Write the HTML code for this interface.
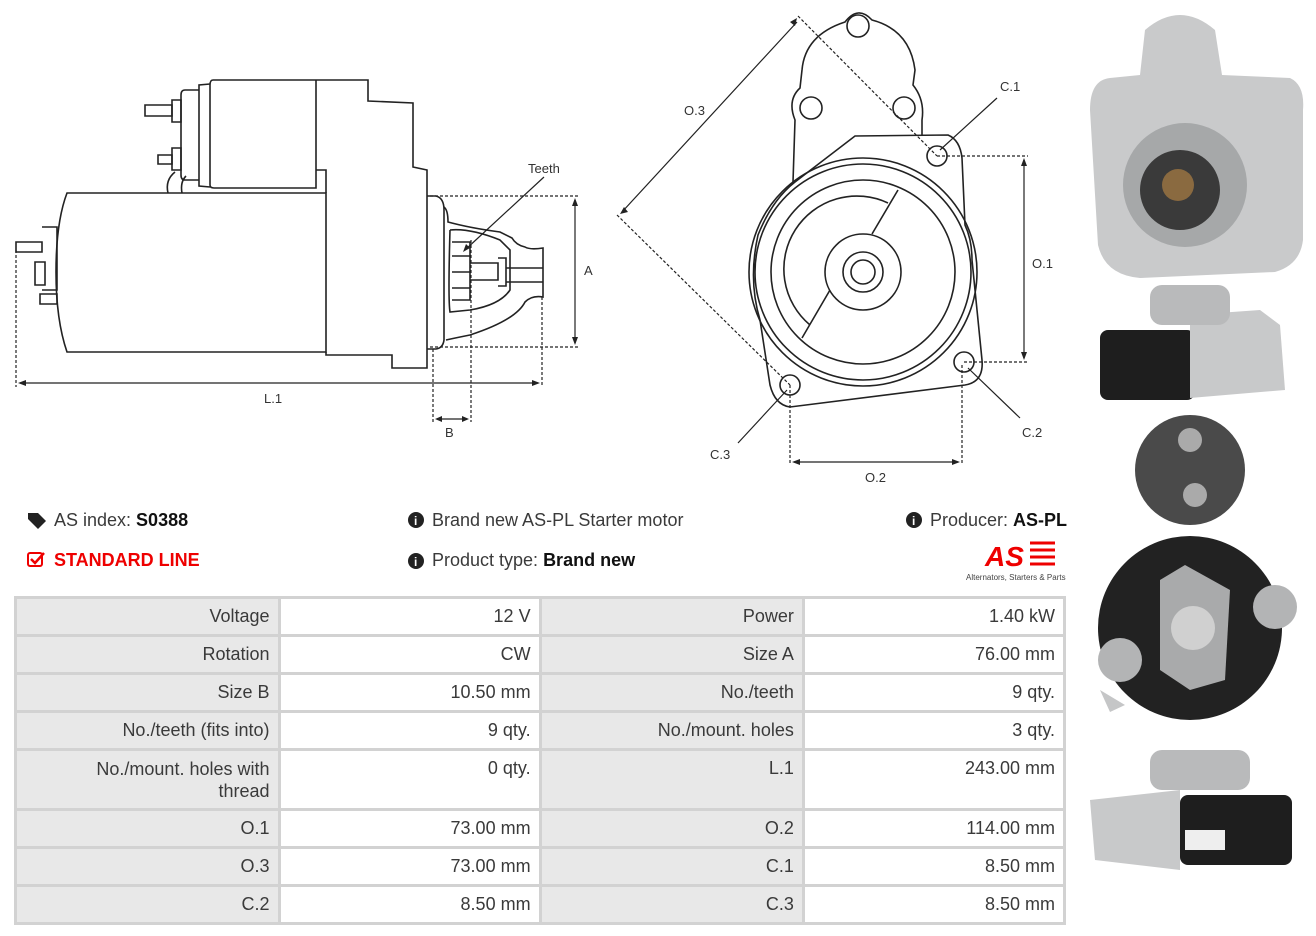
<!DOCTYPE html>
<html><head><style>
body{margin:0;width:1316px;height:936px;background:#fff;position:relative;font-family:"Liberation Sans",sans-serif;overflow:hidden}
.t{position:absolute;font-size:18px;color:#3a3a3a;white-space:nowrap}
table{position:absolute;left:14px;top:596px;border-collapse:collapse;width:1052px;font-size:18px;color:#3a3a3a}
td{border:3px solid #d2d2d2;text-align:right;padding:7px 8px 0 8px;vertical-align:top;height:28px}
td.l{background:#e8e8e8}
</style></head><body>
<svg width="1316" height="936" style="position:absolute;left:0;top:0" fill="none" stroke="#222" stroke-width="1.6">
<!-- side view -->
<path d="M67,193 L326,193 L326,352 L67,352 Q56,320 56,272 Q56,222 67,193Z"/>
<path d="M326,193 L326,170 L316,170 M326,352 L326,355 L392,355 L392,368 L427,368 L427,170 L413,167 L413,103 L368,101 L368,80 L213,80"/>
<path d="M213,80 Q210,80 210,85 L210,185 Q210,188 214,188 L316,188 L316,80"/>
<path d="M210,84 L199,85 L199,186 L210,187 M199,90 L185,90 Q181,90 181,95 L181,175 Q181,180 185,180 L199,180"/>
<path d="M172,100 L181,100 L181,122 L172,122Z M172,148 L181,148 L181,170 L172,170Z"/>
<path d="M145,105 L172,105 L172,116 L145,116Z M158,155 L172,155 L172,164 L158,164Z"/>
<path d="M168,193 Q165,180 175,172 M182,193 Q180,182 186,176"/>
<path d="M427,196 L436,196 Q444,198 444,210 L444,340 Q443,348 436,349 L427,349"/>
<path d="M444,207 Q448,210 448,222 Q470,228 500,232 L512,238 Q516,245 525,247 Q530,250 543,248 L543,297 Q532,295 525,302 Q516,320 470,335 Q455,338 446,340"/>
<path d="M450,230 Q470,228 500,240 Q505,245 510,250 L510,290 Q500,305 470,310 L450,312 Q448,300 450,230"/>
<path d="M452,242 L470,242 L470,300 L452,300 M452,256 L470,256 M452,272 L470,272 M452,288 L470,288 M470,263 L498,263 L498,280 L470,280 M498,258 L506,258 L506,286 L498,286 M506,268 L543,268 M506,282 L543,282"/>
<path d="M42,227 L57,227 L57,290 L42,290 M16,242 L42,242 L42,252 L16,252Z M35,262 L45,262 L45,285 L35,285Z M40,294 L57,294 L57,304 L40,304Z"/>
<g stroke-dasharray="3,2" stroke-width="1.2">
<path d="M430,196 L578,196 M430,347 L578,347 M16,250 L16,387 M542,297 L542,387 M433,349 L433,422 M471,240 L471,422"/>
</g>
<path stroke-width="1.2" d="M575,200 L575,343 M20,383 L538,383 M437,419 L467,419 M465,250 L544,177"/>
<g fill="#222" stroke="none">
<path d="M463,252 l3,-8 l4,4z M575,198 l-3,8 l6,0z M575,345 l-3,-8 l6,0z M18,383 l8,-3 l0,6z M540,383 l-8,-3 l0,6z M435,419 l7,-3 l0,6z M469,419 l-7,-3 l0,6z"/>
</g>
<!-- front view -->
<path d="M793,182 L795,120 Q787,100 800,88 L802,70 Q805,35 845,22 Q858,5 872,20 Q910,30 915,70 L913,85 Q925,100 922,120 L922,135"/>
<circle cx="858" cy="26" r="11"/><circle cx="811" cy="108" r="11"/><circle cx="904" cy="108" r="11"/>
<path d="M855,136 L948,135 Q960,140 962,158 L965,225 Q972,240 972,260 L982,360 Q984,382 965,385 L790,407 Q775,405 770,385 L760,320 Q748,280 758,235 Q772,200 795,182Z"/>
<circle cx="863" cy="272" r="114"/><circle cx="863" cy="272" r="108"/><circle cx="863" cy="272" r="92"/>
<path d="M888,203 A73,73 0 0 0 810,325"/>
<circle cx="863" cy="272" r="38"/><circle cx="863" cy="272" r="20"/><circle cx="863" cy="272" r="12"/>
<path d="M898,190 L872,234 M830,290 L802,338"/>
<circle cx="937" cy="156" r="10"/><circle cx="964" cy="362" r="10"/><circle cx="790" cy="385" r="10"/>
<g stroke-dasharray="3,2" stroke-width="1.2">
<path d="M798,16 L937,156 M617,215 L790,385 M937,156 L1028,156 M964,362 L1028,362 M790,385 L790,465 M962,365 L962,465"/>
</g>
<path stroke-width="1.2" d="M797,22 L622,212 M1024,160 L1024,358 M794,462 L958,462 M940,150 L997,98 M968,368 L1020,418 M787,390 L738,443"/>
<g fill="#222" stroke="none">
<path d="M797,18 l-2,8 l-5,-4z M620,214 l8,-2 l-4,-5z M1024,158 l-3,8 l6,0z M1024,360 l-3,-8 l6,0z M792,462 l8,-3 l0,6z M960,462 l-8,-3 l0,6z"/>
</g>
<g fill="#333" stroke="none" font-size="13" font-family="Liberation Sans">
<text x="528" y="173">Teeth</text><text x="584" y="275">A</text><text x="264" y="403">L.1</text><text x="445" y="437">B</text>
<text x="684" y="115">O.3</text><text x="1000" y="91">C.1</text><text x="1032" y="268">O.1</text><text x="1022" y="437">C.2</text><text x="710" y="459">C.3</text><text x="865" y="482">O.2</text>
</g>
<!-- photos -->
<g stroke="none">
<path fill="#c9cacb" d="M1140,75 L1145,30 Q1180,0 1215,30 L1222,75 L1290,78 Q1305,85 1303,110 L1303,240 Q1300,265 1275,272 L1140,278 Q1105,275 1098,245 L1090,110 Q1090,80 1110,78Z"/>
<circle cx="1185" cy="185" r="62" fill="#a6a8a9"/><circle cx="1180" cy="190" r="40" fill="#3a3a3a"/><circle cx="1178" cy="185" r="16" fill="#8a6a40"/>
<rect x="1100" y="330" width="95" height="70" rx="8" fill="#1e1e1e"/><path fill="#c8c9ca" d="M1190,315 L1260,310 L1280,325 L1285,390 L1190,398Z"/><rect x="1150" y="285" width="80" height="40" rx="12" fill="#b9babb"/>
<circle cx="1190" cy="470" r="55" fill="#4a4a4a"/><circle cx="1190" cy="440" r="12" fill="#aaa"/><circle cx="1195" cy="495" r="12" fill="#aaa"/>
<circle cx="1190" cy="628" r="92" fill="#222"/><path fill="#c5c6c7" d="M1100,690 L1125,705 L1110,712Z"/>
<path fill="#a9aaab" d="M1185,565 L1230,590 L1225,680 L1190,690 L1160,670 L1160,580Z"/><circle cx="1193" cy="628" r="22" fill="#d0d0d0"/>
<circle cx="1120" cy="660" r="22" fill="#b3b4b5"/><circle cx="1275" cy="607" r="22" fill="#b3b4b5"/>
<path fill="#c8c9ca" d="M1090,800 L1180,790 L1180,870 L1095,860Z"/><rect x="1180" y="795" width="112" height="70" rx="8" fill="#1e1e1e"/><rect x="1150" y="750" width="100" height="40" rx="12" fill="#b9babb"/><rect x="1185" y="830" width="40" height="20" fill="#eee"/>
</g>
<!-- icons -->
<path d="M28,513 L38,513 L46,521 L38,529 L28,519Z" fill="#222" stroke="none"/>
<rect x="28" y="553" width="14" height="13" rx="2" stroke="#e00" stroke-width="2"/><path d="M31,559 L35,563 L44,553" stroke="#e00" stroke-width="2.5"/>
<g fill="#222" stroke="none"><circle cx="416" cy="520" r="8"/><circle cx="416" cy="561" r="8"/><circle cx="914" cy="520" r="8"/></g>
<g fill="#fff" stroke="none" font-size="12" font-weight="bold"><text x="414" y="525">i</text><text x="414" y="566">i</text><text x="912" y="525">i</text></g>
<text x="985" y="566" fill="#e00" stroke="none" font-size="28" font-weight="bold" font-style="italic">AS</text>
<path d="M1030,543 h25 M1030,550 h25 M1030,557 h25 M1030,564 h25" stroke="#e00" stroke-width="3"/>
<text x="966" y="580" fill="#444" stroke="none" font-size="8">Alternators, Starters &amp; Parts</text>
</svg>
<div class="t" style="left:54px;top:510px">AS index: <b style="color:#111">S0388</b></div>
<div class="t" style="left:54px;top:550px;color:#e00;font-weight:bold">STANDARD LINE</div>
<div class="t" style="left:432px;top:510px">Brand new AS-PL Starter motor</div>
<div class="t" style="left:432px;top:550px">Product type: <b style="color:#111">Brand new</b></div>
<div class="t" style="left:930px;top:510px">Producer: <b style="color:#111">AS-PL</b></div>
<table>
<colgroup><col style="width:264px"><col style="width:262px"><col style="width:264px"><col style="width:262px"></colgroup>
<tr><td class="l">Voltage</td><td>12 V</td><td class="l">Power</td><td>1.40 kW</td></tr>
<tr><td class="l">Rotation</td><td>CW</td><td class="l">Size A</td><td>76.00 mm</td></tr>
<tr><td class="l">Size B</td><td>10.50 mm</td><td class="l">No./teeth</td><td>9 qty.</td></tr>
<tr><td class="l">No./teeth (fits into)</td><td>9 qty.</td><td class="l">No./mount. holes</td><td>3 qty.</td></tr>
<tr><td class="l" style="height:50px;line-height:22px;padding-left:60px">No./mount. holes with thread</td><td>0 qty.</td><td class="l">L.1</td><td>243.00 mm</td></tr>
<tr><td class="l">O.1</td><td>73.00 mm</td><td class="l">O.2</td><td>114.00 mm</td></tr>
<tr><td class="l">O.3</td><td>73.00 mm</td><td class="l">C.1</td><td>8.50 mm</td></tr>
<tr><td class="l">C.2</td><td>8.50 mm</td><td class="l">C.3</td><td>8.50 mm</td></tr>
</table>
</body></html>
